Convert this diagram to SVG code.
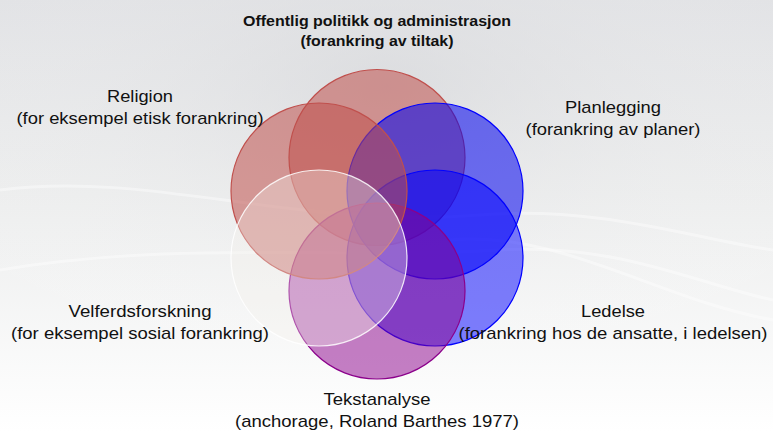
<svg xmlns="http://www.w3.org/2000/svg" width="773" height="432" viewBox="0 0 773 432">
  <defs>
    <linearGradient id="bg" x1="0" y1="0" x2="0" y2="1">
      <stop offset="0" stop-color="#dfe0e3"/>
      <stop offset="0.45" stop-color="#eceded"/>
      <stop offset="1" stop-color="#ffffff"/>
    </linearGradient>
    <radialGradient id="glow" cx="0.5" cy="0.2" r="0.7">
      <stop offset="0" stop-color="#d6d7da" stop-opacity="0.6"/>
      <stop offset="1" stop-color="#ffffff" stop-opacity="0"/>
    </radialGradient>
  </defs>
  <style>
    .lbl { font-family: "Liberation Sans", Arial, sans-serif; font-size: 17px; fill: #111; text-anchor: middle; }
    .ttl { font-family: "Liberation Sans", Arial, sans-serif; font-size: 14.5px; font-weight: bold; fill: #111; text-anchor: middle; }
    .c { stroke-width: 1.2; }
  </style>
  <rect x="0" y="0" width="773" height="432" fill="url(#bg)"/>
  <rect x="0" y="0" width="773" height="432" fill="url(#glow)"/>
  <g fill="none" stroke="#ffffff" stroke-opacity="0.4" stroke-width="3">
    <path d="M0,190 C150,170 300,230 480,215 C600,205 700,240 773,250"/>
    <path d="M0,270 C180,240 340,260 500,250 C620,243 700,285 773,300"/>
    <path d="M450,240 C560,230 660,300 773,320"/>
  </g>

  <g id="offentlig">
    <circle class="c" cx="377" cy="157.5" r="88" fill="#c0504d" fill-opacity="0.55" stroke="#c0504d"/>
  </g>
  <g id="planlegging">
    <circle class="c" cx="435" cy="191" r="88" fill="#0000ee" fill-opacity="0.55" stroke="#0000ff"/>
  </g>
  <g id="ledelse">
    <circle class="c" cx="435" cy="258" r="88" fill="#0000ff" fill-opacity="0.5" stroke="#0000ff"/>
  </g>
  <g id="tekstanalyse">
    <circle class="c" cx="377" cy="291" r="88" fill="#8b008b" fill-opacity="0.5" stroke="#8b008b"/>
  </g>
  <g id="religion">
    <circle class="c" cx="319" cy="191" r="88" fill="#c0504d" fill-opacity="0.55" stroke="#c0504d"/>
  </g>
  <g id="velferd">
    <circle class="c" cx="319" cy="258" r="88" fill="#f4f1ea" fill-opacity="0.35" stroke="#ffffff" stroke-opacity="0.85"/>
  </g>

  <g id="connectors"/>

  <g id="labels">
    <text class="ttl" x="377" y="26" textLength="268" lengthAdjust="spacingAndGlyphs">Offentlig politikk og administrasjon</text>
    <text class="ttl" x="377" y="46" textLength="153" lengthAdjust="spacingAndGlyphs">(forankring av tiltak)</text>
    <text class="lbl" x="140" y="102" textLength="66" lengthAdjust="spacingAndGlyphs">Religion</text>
    <text class="lbl" x="140" y="124" textLength="247" lengthAdjust="spacingAndGlyphs">(for eksempel etisk forankring)</text>
    <text class="lbl" x="613" y="113" textLength="96" lengthAdjust="spacingAndGlyphs">Planlegging</text>
    <text class="lbl" x="613" y="135" textLength="175" lengthAdjust="spacingAndGlyphs">(forankring av planer)</text>
    <text class="lbl" x="140" y="317" textLength="143" lengthAdjust="spacingAndGlyphs">Velferdsforskning</text>
    <text class="lbl" x="140" y="339" textLength="258" lengthAdjust="spacingAndGlyphs">(for eksempel sosial forankring)</text>
    <text class="lbl" x="613" y="317" textLength="64" lengthAdjust="spacingAndGlyphs">Ledelse</text>
    <text class="lbl" x="613" y="339" textLength="309" lengthAdjust="spacingAndGlyphs">(forankring hos de ansatte, i ledelsen)</text>
    <text class="lbl" x="377" y="405" textLength="107" lengthAdjust="spacingAndGlyphs">Tekstanalyse</text>
    <text class="lbl" x="377" y="427" textLength="284" lengthAdjust="spacingAndGlyphs">(anchorage, Roland Barthes 1977)</text>
  </g>
</svg>
